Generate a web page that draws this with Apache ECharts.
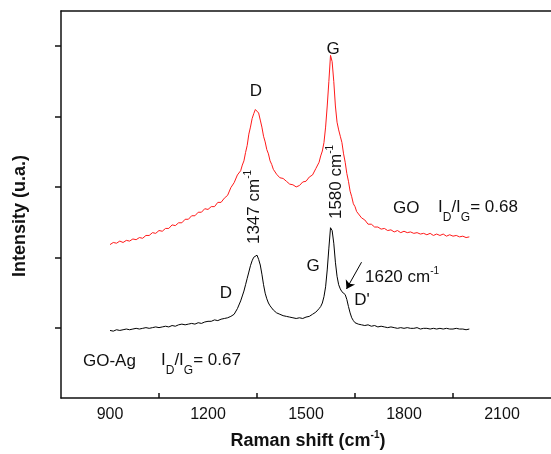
<!DOCTYPE html>
<html>
<head>
<meta charset="utf-8">
<script src="https://cdn.jsdelivr.net/npm/echarts@6/dist/echarts.min.js"></script>
<style>
  html, body { margin: 0; padding: 0; background: #fff; }
  #chart { width: 551px; height: 454px; }
</style>
</head>
<body>
<div id="chart"></div>
<script>
// Raman shift (cm-1), finer steps around the D and G bands
const shift = [
  900, 910, 920, 930, 940, 950, 960, 970, 980, 990,
  1000, 1010, 1020, 1030, 1040, 1050, 1060, 1070, 1080, 1090,
  1100, 1110, 1120, 1130, 1140, 1150, 1160, 1170, 1180, 1190,
  1200, 1210, 1220, 1230, 1240, 1250, 1260, 1270, 1280, 1290,
  1300,
  1305, 1310, 1315, 1320, 1325, 1330, 1335, 1340, 1345, 1350,
  1355, 1360, 1365, 1370, 1375, 1380, 1385, 1390, 1395, 1400,
  1405, 1410, 1415, 1420,
  1430, 1440, 1450, 1460, 1470, 1480, 1490, 1500, 1510, 1520, 1530, 1540,
  1545, 1550, 1555, 1560, 1565, 1570, 1575, 1580, 1585, 1590,
  1595, 1600, 1605, 1610, 1615, 1620, 1625, 1630, 1635, 1640,
  1645, 1650, 1655, 1660,
  1670, 1680, 1690, 1700, 1710, 1720, 1730, 1740, 1750, 1760,
  1770, 1780, 1790, 1800, 1810, 1820, 1830, 1840, 1850, 1860,
  1870, 1880, 1890, 1900, 1910, 1920, 1930, 1940, 1950, 1960,
  1970, 1980, 1990, 2000
];

// GO spectrum (red, offset upwards)
const goIntensity = [
  2.18, 2.21, 2.20, 2.23, 2.21, 2.24, 2.23, 2.26, 2.25, 2.28,
  2.27, 2.31, 2.31, 2.35, 2.34, 2.38, 2.37, 2.41, 2.41, 2.46,
  2.45, 2.49, 2.49, 2.54, 2.54, 2.59, 2.59, 2.64, 2.64, 2.69,
  2.68, 2.72, 2.72, 2.78, 2.78, 2.84, 2.88, 2.99, 3.06, 3.17,
  3.23,
  3.31, 3.37, 3.49, 3.59, 3.75, 3.85, 3.97, 4.04, 4.10, 4.08,
  4.05, 3.95, 3.85, 3.72, 3.64, 3.53, 3.47, 3.37, 3.32, 3.25,
  3.23, 3.18, 3.17, 3.13,
  3.12, 3.08, 3.04, 3.03, 3.00, 3.02, 3.07, 3.08, 3.14, 3.17, 3.26, 3.35,
  3.44, 3.51, 3.63, 3.85, 4.15, 4.50, 4.87, 4.78, 4.50, 4.15,
  3.92, 3.81, 3.72, 3.63, 3.47, 3.35, 3.19, 3.08, 2.94, 2.86,
  2.76, 2.72, 2.65, 2.63,
  2.56, 2.53, 2.47, 2.47, 2.43, 2.43, 2.40, 2.41, 2.38, 2.39,
  2.36, 2.38, 2.35, 2.37, 2.35, 2.36, 2.34, 2.35, 2.33, 2.34,
  2.32, 2.34, 2.31, 2.33, 2.31, 2.33, 2.30, 2.32, 2.30, 2.31,
  2.29, 2.30, 2.28, 2.29
];

// GO-Ag spectrum (black)
const goAgIntensity = [
  0.96, 0.95, 0.97, 0.96, 0.97, 0.98, 0.97, 0.98, 0.99, 0.98,
  0.99, 1.00, 0.99, 1.00, 1.01, 1.00, 1.01, 1.02, 1.01, 1.03,
  1.02, 1.04, 1.05, 1.04, 1.05, 1.06, 1.05, 1.07, 1.06, 1.08,
  1.09, 1.09, 1.11, 1.10, 1.12, 1.13, 1.14, 1.16, 1.19, 1.27,
  1.38,
  1.45, 1.52, 1.61, 1.70, 1.79, 1.88, 1.95, 2.00, 2.02, 2.03,
  1.97, 1.89, 1.76, 1.61, 1.49, 1.41, 1.35, 1.31, 1.28, 1.25,
  1.23, 1.21, 1.20, 1.19,
  1.17, 1.16, 1.15, 1.14, 1.13, 1.14, 1.13, 1.15, 1.16, 1.19, 1.22, 1.27,
  1.30, 1.35, 1.44, 1.58, 1.82, 2.13, 2.42, 2.38, 2.20, 1.93,
  1.73, 1.61, 1.55, 1.51, 1.49, 1.47, 1.40, 1.30, 1.21, 1.14,
  1.10, 1.07, 1.06, 1.05,
  1.04, 1.03, 1.04, 1.02, 1.03, 1.01, 1.02, 1.01, 1.00, 1.01,
  1.00, 0.99, 1.00, 0.99, 1.00, 0.99, 0.99, 1.00, 0.98, 0.99,
  0.99, 0.98, 0.99, 0.98, 0.99, 0.98, 0.99, 0.98, 0.98, 0.99,
  0.98, 0.98, 0.97, 0.98
];

const xLabelValues = [900, 1200, 1500, 1800, 2100];
const xTickValues = [1050, 1350, 1650, 1950];
const yTickValues = [1, 2, 3, 4, 5];
// arrow pointing at the D' shoulder (1620 cm-1)
const arrowFrom = [1670, 1.93];
const arrowTo = [1624, 1.55];

const FONT = '"Liberation Sans", Arial, sans-serif';
const INK = '#111';

const chart = echarts.init(document.getElementById('chart'), null, { renderer: 'canvas' });

const toPairs = (ys) => shift.map((x, i) => [x, ys[i]]);

// rich styles: main text, subscript (I_D), superscript (cm^-1)
const richFor = (size, weight) => ({
  m: { fontSize: size, fontWeight: weight, fontFamily: FONT, fill: INK, lineHeight: 18, verticalAlign: 'top' },
  mb: { fontSize: size, fontWeight: weight, fontFamily: FONT, fill: INK, lineHeight: 18, verticalAlign: 'bottom' },
  sub: { fontSize: 12, fontFamily: FONT, fill: INK, lineHeight: 12, padding: [13, 0, 0, 0], verticalAlign: 'top' },
  sup: { fontSize: 10, fontWeight: weight, fontFamily: FONT, fill: INK, lineHeight: 10, padding: [0, 0, 10, 0], verticalAlign: 'bottom' }
});

const plainText = (x, y, text, align) => ({
  type: 'text', x: x, y: y, silent: true,
  style: { text: text, fontSize: 17, fontFamily: FONT, fill: INK, align: align || 'center', verticalAlign: 'middle' }
});

const richText = (x, y, text, opts) => ({
  type: 'text', x: x, y: y, rotation: opts.rotation || 0, silent: true,
  style: {
    text: text,
    align: opts.align || 'left',
    verticalAlign: opts.vAlign || 'top',
    rich: richFor(opts.size || 17, opts.weight || 'normal')
  }
});

const option = {
  animation: false,
  backgroundColor: '#fff',
  grid: { left: 61, top: 11, width: 492, height: 387, containLabel: false },
  xAxis: [{
    type: 'value',
    min: 750,
    max: 2250,
    position: 'bottom',
    axisLine: { lineStyle: { color: INK, width: 1.5 } },
    axisTick: { show: true, inside: true, length: 5, customValues: xTickValues, lineStyle: { color: INK, width: 1.5 } },
    axisLabel: {
      customValues: xLabelValues,
      formatter: (v) => String(v),
      fontSize: 16, fontFamily: FONT, color: INK, margin: 9
    },
    splitLine: { show: false }
  }, {
    // top frame line only
    type: 'value',
    min: 750,
    max: 2250,
    position: 'top',
    axisLine: { lineStyle: { color: INK, width: 1.5 } },
    axisTick: { show: false },
    axisLabel: { show: false },
    splitLine: { show: false }
  }],
  yAxis: {
    type: 'value',
    min: 0,
    max: 5.5,
    axisLine: { show: true, lineStyle: { color: INK, width: 1.5 } },
    axisTick: { show: true, length: 6, customValues: yTickValues, lineStyle: { color: INK, width: 1.5 } },
    axisLabel: { show: false },
    splitLine: { show: false }
  },
  series: [{
    name: 'GO',
    type: 'line',
    data: toPairs(goIntensity),
    showSymbol: false,
    symbol: 'none',
    lineStyle: { color: '#ff1a1a', width: 1 },
    silent: true
  }, {
    name: 'GO-Ag',
    type: 'line',
    data: toPairs(goAgIntensity),
    showSymbol: false,
    symbol: 'none',
    lineStyle: { color: '#000', width: 1 },
    silent: true,
    markLine: {
      silent: true,
      symbol: ['none', 'arrow'],
      symbolSize: 8,
      label: { show: false },
      lineStyle: { color: '#000', width: 1, type: 'solid' },
      data: [[{ coord: arrowFrom }, { coord: arrowTo }]]
    }
  }],
  graphic: [
    plainText(256, 91, 'D'),
    plainText(333, 49, 'G'),
    plainText(226, 293, 'D'),
    plainText(313, 266, 'G'),
    plainText(362, 300, "D'"),
    plainText(393, 208, 'GO', 'left'),
    richText(438, 199, '{m|I}{sub|D}{m|/I}{sub|G}{m|= 0.68}', {}),
    plainText(83, 361, 'GO-Ag', 'left'),
    richText(161, 352, '{m|I}{sub|D}{m|/I}{sub|G}{m|= 0.67}', {}),
    richText(365, 268, '{mb|1620 cm}{sup|-1}', { vAlign: 'top' }),
    richText(254, 207, '{mb|1347 cm}{sup|-1}', { align: 'center', vAlign: 'middle', rotation: Math.PI / 2 }),
    richText(336, 182, '{mb|1580 cm}{sup|-1}', { align: 'center', vAlign: 'middle', rotation: Math.PI / 2 }),
    {
      type: 'text', x: 20, y: 216, rotation: Math.PI / 2, silent: true,
      style: { text: 'Intensity (u.a.)', fontSize: 18, fontWeight: 'bold', fontFamily: FONT, fill: INK, align: 'center', verticalAlign: 'middle' }
    },
    richText(308, 441, '{mb|Raman shift (cm}{sup|-1}{mb|)}', { align: 'center', vAlign: 'middle', size: 18, weight: 'bold' })
  ]
};

chart.setOption(option);
</script>
</body>
</html>
